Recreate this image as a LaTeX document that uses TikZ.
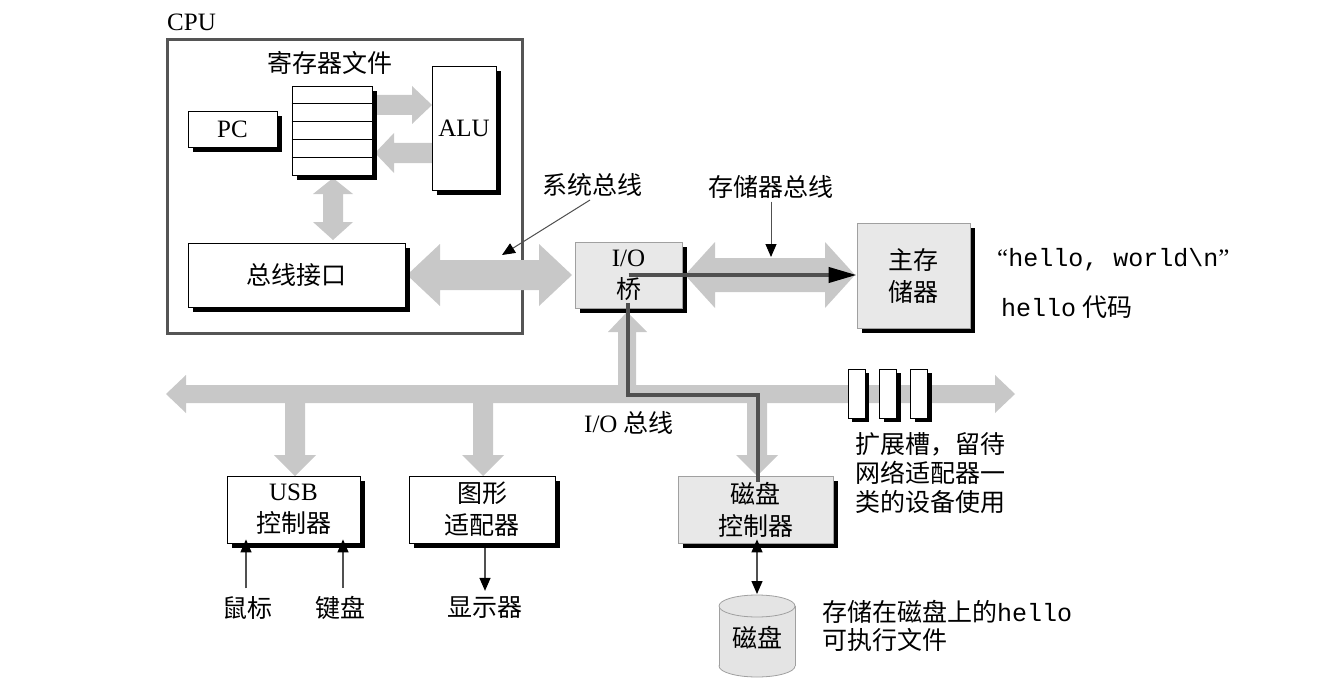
\documentclass[tikz,border=0pt]{standalone}
\usepackage{fontspec}
\setmainfont{Liberation Serif}
\setmonofont{Liberation Mono}
\newfontfamily\cjk{Noto Sans CJK SC}
\usetikzlibrary{arrows.meta,shadows,calc}
\definecolor{busgray}{RGB}{200,200,200}
\definecolor{boxgray}{RGB}{232,232,232}
\definecolor{boxline}{RGB}{160,160,160}
\definecolor{darkline}{RGB}{80,80,80}
\definecolor{cpuline}{RGB}{85,85,85}
\definecolor{diskfill}{RGB}{228,228,228}
\begin{document}
\begin{tikzpicture}[x=1pt,y=-1pt,
  every node/.style={inner sep=0pt, font=\fontsize{25}{32}\selectfont},
  wbox/.style={draw=black, line width=0.8pt, fill=white, align=center,
    drop shadow={shadow xshift=5pt, shadow yshift=-5pt, fill=black, opacity=1}},
  gbox/.style={wbox, draw=boxline, fill=boxgray},
  slotbox/.style={draw=black, line width=0.8pt, fill=white,
    drop shadow={shadow xshift=4pt, shadow yshift=-4pt, fill=black, opacity=1},
    minimum width=17pt, minimum height=49pt},
  bus/.style={fill=busgray},
  thinarrow/.style={draw=darkline, line width=1.3pt, -{Triangle[length=13pt,width=11pt,color=black]}},
  thinboth/.style={draw=darkline, line width=1.3pt, {Triangle[length=13pt,width=11pt,color=black]}-{Triangle[length=13pt,width=11pt,color=black]}},
  darkpath/.style={draw=darkline, line width=4pt},
]
\fill[white] (0,0) rectangle (1333,682);
\useasboundingbox (0,0) rectangle (1333,682);

% CPU frame
\node[draw=cpuline, line width=3pt, minimum width=355pt, minimum height=293pt] (cpu) at (344.5,186.5) {};
\node[anchor=west] (cpulbl) at (167,22) {CPU};

% gray bus arrows
\fill[bus] (377,95) -- (412,95) -- (412,86) -- (432,105) -- (412,124) -- (412,115) -- (377,115) -- cycle;
\fill[bus] (432,143) -- (394,143) -- (394,133) -- (375,153) -- (394,173) -- (394,163) -- (432,163) -- cycle;
\fill[bus] (333,178) -- (353,194) -- (343,194) -- (343,222) -- (353,222) -- (333,240) -- (313,222) -- (323,222) -- (323,194) -- (313,194) -- cycle;
\fill[bus] (407,275) -- (440,244) -- (440,260) -- (539,260) -- (539,244) -- (572,275) -- (539,306) -- (539,290) -- (440,290) -- (440,306) -- cycle;
\fill[bus] (685,275) -- (715,242) -- (715,258) -- (825,258) -- (825,242) -- (855,275) -- (825,308) -- (825,292) -- (715,292) -- (715,308) -- cycle;
% I/O bus
\fill[bus] (166,394) -- (186,375) -- (186,385) -- (995,385) -- (995,375) -- (1015,394) -- (995,413) -- (995,403) -- (186,403) -- (186,413) -- cycle;
\fill[bus] (627,312) -- (647,332) -- (636,332) -- (636,390) -- (618,390) -- (618,332) -- (608,332) -- cycle;
\fill[bus] (285,400) -- (305,400) -- (305,455) -- (316,455) -- (295,476) -- (274,455) -- (285,455) -- cycle;
\fill[bus] (473,400) -- (493,400) -- (493,455) -- (504,455) -- (483,476) -- (462,455) -- (473,455) -- cycle;
\fill[bus] (747,400) -- (767,400) -- (767,455) -- (778,455) -- (757,476) -- (736,455) -- (747,455) -- cycle;

% CPU internals
\node[wbox, minimum width=80pt, minimum height=89pt] (rf) at (332,130.5) {};
\foreach \i in {1,...,4}
  \draw[line width=0.8pt] ($(rf.north west)!\i/5!(rf.south west)$) -- ($(rf.north east)!\i/5!(rf.south east)$);
\node (rflbl) at (330,63) {\cjk 寄存器文件};
\node[wbox, minimum width=64pt, minimum height=124pt] (alu) at (464,128) {ALU};
\node[wbox, minimum width=89pt, minimum height=36pt] (pc) at (232.5,129) {PC};
\node[wbox, minimum width=217pt, minimum height=64pt] (busif) at (296.5,275) {\cjk 总线接口};

% bridge, memory
\node[gbox, minimum width=107pt, minimum height=66pt] (bridge) at (628.5,275) {I/O\\{\cjk 桥}};
\node[gbox, minimum width=113pt, minimum height=105pt] (mem) at (913.5,275.5) {{\cjk 主存}\\{\cjk 储器}};

% slots
\node[slotbox] (s1) at (856.5,393.5) {};
\node[slotbox] (s2) at (888,393.5) {};
\node[slotbox] (s3) at (919,393.5) {};

% bottom devices
\node[wbox, minimum width=133pt, minimum height=67pt] (usb) at (293.5,509.5) {USB\\{\cjk 控制器}};
\node[wbox, minimum width=146pt, minimum height=67pt] (gfx) at (482,509.5) {{\cjk 图形}\\{\cjk 适配器}};
\node[gbox, minimum width=155pt, minimum height=67pt] (dctl) at (755.5,509.5) {{\cjk 磁盘}\\{\cjk 控制器}};

% disk cylinder
\fill[diskfill] (719,606) rectangle (795,666);
\filldraw[fill=diskfill, draw=boxline, line width=0.8pt] (757,666) ellipse[x radius=38, y radius=11];
\fill[diskfill] (719.4,606) rectangle (794.6,666);
\draw[boxline, line width=0.8pt] (719,606) -- (719,666) (795,606) -- (795,666);
\filldraw[fill=diskfill, draw=boxline, line width=0.8pt] (757,606) ellipse[x radius=38, y radius=11];
\node (disk) at (757,638) {\cjk 磁盘};
\coordinate (dtop) at (757,594);

% labels
\node (sysbuslbl) at (592,185) {\cjk 系统总线};
\node (membuslbl) at (771,187) {\cjk 存储器总线};
\node (iobuslbl) at (629,423) {I/O {\cjk 总线}};
\node[anchor=west, align=left, font=\cjk\fontsize{25}{29}\selectfont] (slotlbl) at (855,473) {扩展槽，留待\\网络适配器一\\类的设备使用};
\node[anchor=west] (hw) at (997,260) {“{\ttfamily hello, world\textbackslash n}”};
\node[anchor=west] (hc) at (1001,307) {{\ttfamily hello} {\cjk 代码}};
\node[anchor=west, align=left, font=\fontsize{25}{28}\selectfont] (dlbl) at (822,626) {{\cjk 存储在磁盘上的}{\ttfamily hello}\\{\cjk 可执行文件}};
\node (mouse) at (247,608) {\cjk 鼠标};
\node (kbd) at (340,608) {\cjk 键盘};
\node (disp) at (485,608) {\cjk 显示器};

% dark data path
\draw[darkpath, -{Triangle[length=28pt,width=15pt,color=black]}] (bridge.center) -- (bridge.center -| mem.west);
\coordinate (iobend) at (758,395);
\draw[darkpath] ($(bridge.center)+(-0.5,28)$) |- (iobend) -- ($(dctl.north -| iobend)+(0,6)$);

% thin arrows
\coordinate (sysptrstart) at (590,200);
\coordinate (sysptr) at (502,255);
\draw[thinarrow, line width=1pt] (sysptrstart) -- (sysptr);
\coordinate (membusptr) at (771,257);
\draw[thinarrow, line width=1pt] ([yshift=-3pt]membuslbl.south) -- (membusptr);
\draw[thinarrow, shorten >=-4pt] ([yshift=8pt,xshift=-1pt]mouse.north) -- ([xshift=-1pt]mouse.north |- usb.south);
\draw[thinarrow, shorten >=-4pt] ([yshift=8pt,xshift=3pt]kbd.north) -- ([xshift=3pt]kbd.north |- usb.south);
\draw[thinarrow] ([yshift=-5pt]gfx.south -| disp.north) -- ([yshift=6pt]disp.north);
\draw[thinboth, shorten <=-4pt] (dctl.south -| dtop) -- (dtop);
\end{tikzpicture}
\end{document}
